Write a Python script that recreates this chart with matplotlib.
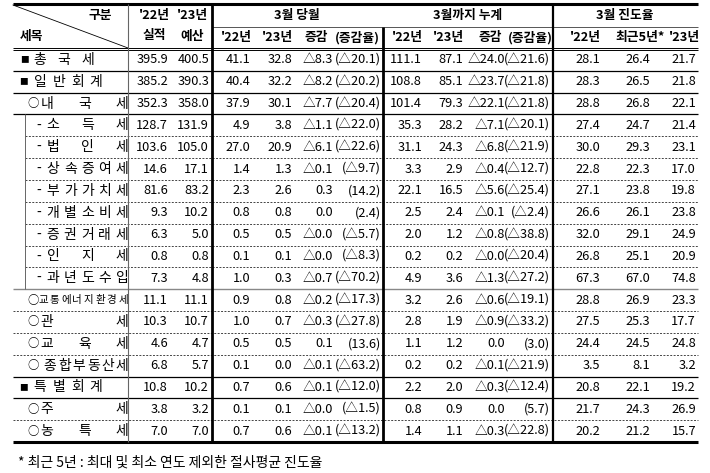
import matplotlib
matplotlib.use("Agg")
import matplotlib.pyplot as plt

FONT = "Noto Sans CJK KR"
plt.rcParams["font.family"] = [FONT, "DejaVu Sans"]

rows = ["총국세", "일반회계", "내국세", "소득세", "법인세", "상속증여세", "부가가치세",
        "개별소비세", "증권거래세", "인지세", "과년도수입", "교통에너지환경세", "관세",
        "교육세", "종합부동산세", "특별회계", "주세", "농특세"]
actual22 = ["395.9","385.2","352.3","128.7","103.6","14.6","81.6","9.3","6.3","0.8","7.3","11.1","10.3","4.6","6.8","10.8","3.8","7.0"]
budget23 = ["400.5","390.3","358.0","131.9","105.0","17.1","83.2","10.2","5.0","0.8","4.8","11.1","10.7","4.7","5.7","10.2","3.2","7.0"]
mar22 = ["41.1","40.4","37.9","4.9","27.0","1.4","2.3","0.8","0.5","0.1","1.0","0.9","1.0","0.5","0.1","0.7","0.1","0.7"]
mar23 = ["32.8","32.2","30.1","3.8","20.9","1.3","2.6","0.8","0.5","0.1","0.3","0.8","0.7","0.5","0.0","0.6","0.1","0.6"]
mar_chg = ["△8.3","△8.2","△7.7","△1.1","△6.1","△0.1","0.3","0.0","△0.0","△0.0","△0.7","△0.2","△0.3","0.1","△0.1","△0.1","△0.0","△0.1"]
mar_rate = ["(△20.1)","(△20.2)","(△20.4)","(△22.0)","(△22.6)","(△9.7)","(14.2)","(2.4)","(△5.7)","(△8.3)","(△70.2)","(△17.3)","(△27.8)","(13.6)","(△63.2)","(△12.0)","(△1.5)","(△13.2)"]
cum22 = ["111.1","108.8","101.4","35.3","31.1","3.3","22.1","2.5","2.0","0.2","4.9","3.2","2.8","1.1","0.2","2.2","0.8","1.4"]
cum23 = ["87.1","85.1","79.3","28.2","24.3","2.9","16.5","2.4","1.2","0.2","3.6","2.6","1.9","1.2","0.2","2.0","0.9","1.1"]
cum_chg = ["△24.0","△23.7","△22.1","△7.1","△6.8","△0.4","△5.6","△0.1","△0.8","△0.0","△1.3","△0.6","△0.9","0.0","△0.1","△0.3","0.0","△0.3"]
cum_rate = ["(△21.6)","(△21.8)","(△21.8)","(△20.1)","(△21.9)","(△12.7)","(△25.4)","(△2.4)","(△38.8)","(△20.4)","(△27.2)","(△19.1)","(△33.2)","(3.0)","(△21.9)","(△12.4)","(5.7)","(△22.8)"]
prog22 = ["28.1","28.3","28.8","27.4","30.0","22.8","27.1","26.6","32.0","26.8","67.3","28.8","27.5","24.4","3.5","20.8","21.7","20.2"]
prog5y = ["26.4","26.5","26.8","24.7","29.3","22.3","23.8","26.1","29.1","25.1","67.0","26.9","25.3","24.5","8.1","22.1","24.3","21.2"]
prog23 = ["21.7","21.8","22.1","21.4","23.1","17.0","19.8","23.8","24.9","20.9","74.8","23.3","17.7","24.8","3.2","19.2","26.9","15.7"]

fig = plt.figure(figsize=(7.10, 4.73), dpi=100)
ax = fig.add_axes([0, 0, 1, 1])
ax.set_xlim(0, 710)
ax.set_ylim(473, 0)
ax.axis("off")

FS = 9.2
L, R = 13, 698
TOP, HB = 4, 49
RH = (442 - HB) / len(rows)

def T(x, y, s, ha="right", fs=FS, **kw):
    ax.text(x, y, s, ha=ha, va="center", fontsize=fs, color="black", **kw)

# Header
ax.text(100, 15, "구분", ha="center", va="center", fontsize=FS, fontweight="bold")
ax.text(20, 36, "세목", ha="left", va="center", fontsize=FS, fontweight="bold")
ax.plot([13, 128], [5, 48], color="black", lw=0.6)
for x, a, b in [(154, "'22년", "실적"), (192, "'23년", "예산")]:
    ax.text(x, 15, a, ha="center", va="center", fontsize=FS, fontweight="bold")
    ax.text(x, 36, b, ha="center", va="center", fontsize=FS, fontweight="bold")
for x, s in [(297, "3월 당월"), (468, "3월까지 누계"), (625, "3월 진도율")]:
    ax.text(x, 15, s, ha="center", va="center", fontsize=FS, fontweight="bold")
sub = [(236, "'22년"), (277, "'23년"), (316, "증감"), (357, "(증감율)"),
       (407, "'22년"), (448, "'23년"), (490, "증감"), (530, "(증감율)"),
       (585, "'22년"), (640, "최근5년*"), (684, "'23년")]
for x, s in sub:
    ax.text(x, 38, s, ha="center", va="center", fontsize=FS, fontweight="bold")

# Data columns
cols = [(168, actual22), (209, budget23), (250, mar22), (292, mar23), (333, mar_chg),
        (381, mar_rate), (422, cum22), (463, cum23), (505, cum_chg), (550, cum_rate),
        (600, prog22), (650, prog5y), (696, prog23)]
for i in range(len(rows)):
    yc = HB + RH * (i + 0.5)
    for x, vals in cols:
        T(x, yc, vals[i])

# Row labels
def spread(chars, x0, x1, yc, fs=FS + 0.8):
    n = len(chars)
    for k, c in enumerate(chars):
        x = x0 + (x1 - x0) * k / (n - 1) if n > 1 else x0
        ax.text(x, yc, c, ha="center", va="center", fontsize=fs)

for i, name in enumerate(rows):
    yc = HB + RH * (i + 0.5)
    if i == 0:
        ax.text(20, yc, "■", ha="left", va="center", fontsize=FS - 3)
        spread(list(name), 40, 88, yc)
    elif name in ("일반회계", "특별회계"):
        ax.text(19, yc, "■", ha="left", va="center", fontsize=FS - 3)
        spread(list(name), 40, 96, yc)
    elif 3 <= i <= 10:
        ax.text(36, yc, "-", ha="left", va="center", fontsize=FS + 0.8)
        spread(list(name), 53, 122, yc)
    else:
        ax.text(27, yc, "○", ha="left", va="center", fontsize=FS - 1)
        if name == "교통에너지환경세":
            spread(list(name), 43, 123, yc, fs=7.6)
        elif name == "종합부동산세":
            spread(list(name), 50, 122, yc)
        else:
            spread(list(name), 47, 122, yc)

# Lines
def hl(y, x0=L, x1=R, lw=0.8, ls="-", c="black"):
    ax.plot([x0, x1], [y, y], color=c, lw=lw, ls=ls, solid_capstyle="butt")

hl(TOP, lw=2.2)
hl(27, 212, R, lw=0.7, c="#555555")
hl(HB - 1, lw=0.7)
hl(HB + 1, lw=0.7)
hl(442, lw=2.2)
solid_after = {0, 1, 2, 10, 14, 15}
for i in range(len(rows) - 1):
    y = HB + RH * (i + 1)
    if i in solid_after:
        hl(y, lw=0.9 if i != 10 else 1.0, c="black" if i != 10 else "#888888")
    else:
        x0 = 25 if 3 <= i < 10 else L
        hl(y, x0, R, lw=0.7, ls=(0, (2, 1.5)), c="#444444")

def vl(x, y0=TOP, y1=442, lw=0.8, c="black"):
    ax.plot([x, x], [y0, y1], color=c, lw=lw, solid_capstyle="butt")

vl(128, lw=0.8, c="#666666")
vl(212, lw=2.0)
vl(383, y0=27, lw=2.0)
vl(553, lw=1.6)
vl(25, HB + RH * 3, HB + RH * 11, lw=0.7, c="#666666")

ax.text(18, 463, "* 최근 5년 : 최대 및 최소 연도 제외한 절사평균 진도율", ha="left",
        va="center", fontsize=FS + 0.8)

fig.savefig("out.png", dpi=100)
